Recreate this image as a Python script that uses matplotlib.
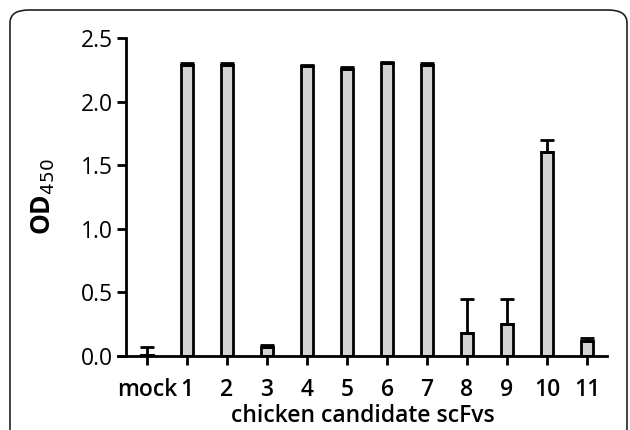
import numpy as np
import matplotlib.pyplot as plt
from matplotlib.patches import FancyBboxPatch

labels = ['mock', '1', '2', '3', '4', '5', '6', '7', '8', '9', '10', '11']
od450 = [0.01, 2.29, 2.29, 0.07, 2.28, 2.26, 2.30, 2.29, 0.18, 0.25, 1.60, 0.12]
od450_err = [0.06, 0.01, 0.01, 0.02, 0.01, 0.01, 0.01, 0.01, 0.27, 0.20, 0.10, 0.02]

plt.rcParams['font.family'] = ['Open Sans', 'DejaVu Sans']

fig = plt.figure(figsize=(6.3, 4.3), dpi=100)

# rounded frame around the panel
frame = FancyBboxPatch((10 / 630, -0.2), 617 / 630, 1.2 - 10 / 430,
                       boxstyle='round,pad=0,rounding_size=0.03',
                       transform=fig.transFigure, fill=False,
                       edgecolor='#222222', linewidth=1.2, clip_on=False)
fig.patches.append(frame)

ax = fig.add_axes([118 / 630, 1 - 356 / 430, (607 - 118) / 630, (356 - 38) / 430])
x = np.arange(len(labels))
ax.bar(x, od450, width=0.3, color='#d3d3d3', edgecolor='black', linewidth=2, zorder=2)
ax.errorbar(x, od450, yerr=[np.zeros(len(x)), od450_err], fmt='none',
            ecolor='black', elinewidth=2, capsize=5, capthick=2, zorder=3)

ax.set_xlim(-0.725, 11.5)
ax.set_ylim(0, 2.5)
ax.set_xticks(x)
ax.set_xticklabels(labels, fontweight='semibold')
ax.set_yticks([0, 0.5, 1.0, 1.5, 2.0, 2.5])
ax.set_yticklabels(['0.0', '0.5', '1.0', '1.5', '2.0', '2.5'], fontweight='semibold')

ax.spines['top'].set_visible(False)
ax.spines['right'].set_visible(False)
ax.spines['left'].set_position(('data', -0.525))
ax.spines['left'].set_linewidth(2)
ax.spines['bottom'].set_linewidth(2)
ax.tick_params(axis='both', width=2, length=6.5, labelsize=16.5)
ax.tick_params(axis='x', pad=9)
ax.tick_params(axis='y', pad=3)

ax.set_xlabel('chicken candidate scFvs', fontsize=16.5, fontweight='semibold', labelpad=2)
ax.set_ylabel('OD$_{450}$', fontsize=19, fontweight='bold')
ax.yaxis.set_label_coords(-0.125, 0.5)

fig.savefig('out.png', dpi=100)
